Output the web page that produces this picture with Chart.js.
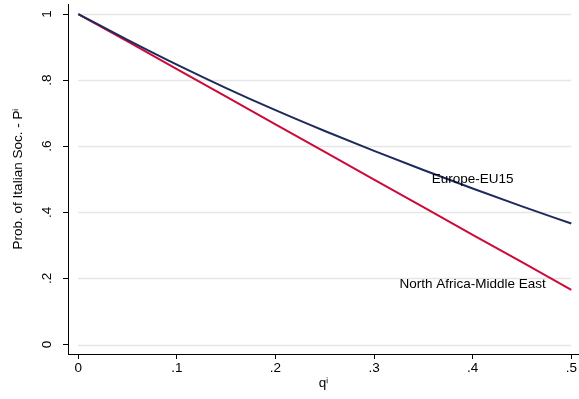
<!DOCTYPE html>
<html>
<head>
<meta charset="utf-8">
<script src="https://cdn.jsdelivr.net/npm/chart.js@4.4.1/dist/chart.umd.min.js"></script>
<style>
  html, body { margin: 0; padding: 0; background: #ffffff; }
  #wrap { width: 579px; height: 399px; }
</style>
</head>
<body>
<div id="wrap"><canvas id="c" width="579" height="399"></canvas></div>
<script>
// Probability of Italian sociability P^i as a function of q^i, by area of origin
const qValues = [0, 0.05, 0.10, 0.15, 0.20, 0.25, 0.30, 0.35, 0.40, 0.45, 0.50];
const europeEU15 = [1.000, 0.922, 0.847, 0.776, 0.709, 0.646, 0.586, 0.528, 0.472, 0.418, 0.366];
const northAfricaME = [1.000, 0.917, 0.833, 0.750, 0.666, 0.583, 0.499, 0.416, 0.332, 0.249, 0.165];

const seriesNames = ['Europe-EU15', 'North Africa-Middle East'];
const seriesColors = ['#1d2b5c', '#cc0a3a'];
// where each series name is written, in data units
const nameAtQ = [0.40, 0.40];
const nameAtP = [0.500, 0.183];

const xTicks = [0, 0.1, 0.2, 0.3, 0.4, 0.5];
const xTickLabels = ['0', '.1', '.2', '.3', '.4', '.5'];
const yTicks = [0, 0.2, 0.4, 0.6, 0.8, 1];
const yTickLabels = ['0', '.2', '.4', '.6', '.8', '1'];

const FONT = '"Liberation Sans", Arial, Helvetica, sans-serif';
const FS = 13.5;

const toPoints = (ys) => qValues.map((q, i) => ({ x: q, y: ys[i] }));

// light horizontal grid lines spanning the data range, y tick labels, series names
const decor = {
  id: 'decor',
  beforeDatasetsDraw(chart) {
    const { ctx, scales: { x, y } } = chart;
    ctx.save();
    ctx.strokeStyle = '#e6e6e6';
    ctx.lineWidth = 1.5;
    const x0 = x.getPixelForValue(xTicks[0]);
    const x1 = x.getPixelForValue(xTicks[xTicks.length - 1]);
    yTicks.forEach(v => {
      const py = Math.round(y.getPixelForValue(v)) + 0.5;
      ctx.beginPath();
      ctx.moveTo(x0, py);
      ctx.lineTo(x1, py);
      ctx.stroke();
    });
    ctx.restore();
  },
  afterDraw(chart) {
    const { ctx, scales: { x, y } } = chart;
    ctx.save();
    ctx.fillStyle = '#000000';
    ctx.font = FS + 'px ' + FONT;
    // rotated y tick labels
    ctx.textAlign = 'center';
    ctx.textBaseline = 'alphabetic';
    yTicks.forEach((v, i) => {
      ctx.save();
      ctx.translate(y.right - 17, y.getPixelForValue(v));
      ctx.rotate(-Math.PI / 2);
      ctx.fillText(yTickLabels[i], 0, 0);
      ctx.restore();
    });
    // series names
    ctx.textBaseline = 'middle';
    seriesNames.forEach((name, i) => {
      ctx.fillText(name, x.getPixelForValue(nameAtQ[i]), y.getPixelForValue(nameAtP[i]));
    });
    ctx.restore();
  }
};

new Chart(document.getElementById('c'), {
  type: 'line',
  data: {
    datasets: [
      {
        label: seriesNames[0],
        data: toPoints(europeEU15),
        borderColor: seriesColors[0],
        borderWidth: 2,
        pointRadius: 0,
        cubicInterpolationMode: 'monotone',
        fill: false
      },
      {
        label: seriesNames[1],
        data: toPoints(northAfricaME),
        borderColor: seriesColors[1],
        borderWidth: 2,
        pointRadius: 0,
        tension: 0,
        fill: false
      }
    ]
  },
  options: {
    responsive: false,
    animation: false,
    devicePixelRatio: 1,
    layout: { padding: { top: 4, right: 0, bottom: 0, left: 0 } },
    plugins: { legend: { display: false }, tooltip: { enabled: false } },
    scales: {
      x: {
        type: 'linear',
        min: -0.0104,
        max: 0.5078,
        afterFit(s) { s.height = 45; },
        afterBuildTicks(s) { s.ticks = xTicks.map(v => ({ value: v })); },
        grid: {
          drawOnChartArea: false,
          drawTicks: true,
          tickLength: 5,
          tickColor: '#000000',
          tickWidth: 1
        },
        border: { display: true, color: '#000000', width: 1 },
        ticks: {
          padding: 1,
          color: '#000000',
          font: { family: FONT, size: FS },
          maxRotation: 0,
          callback: (v) => xTickLabels[xTicks.indexOf(v)] ?? ''
        },
        title: {
          display: true,
          text: 'q\u2071',
          color: '#000000',
          font: { family: FONT, size: FS },
          padding: { top: 0, bottom: 8 }
        }
      },
      y: {
        type: 'linear',
        min: -0.0287,
        max: 1.0303,
        afterFit(s) { s.width = 68; },
        afterBuildTicks(s) { s.ticks = yTicks.map(v => ({ value: v })); },
        grid: {
          drawOnChartArea: false,
          drawTicks: true,
          tickLength: 5,
          tickColor: '#000000',
          tickWidth: 1
        },
        border: { display: true, color: '#000000', width: 1 },
        ticks: { display: false },
        title: {
          display: true,
          text: 'Prob. of Italian Soc. - P\u2071',
          color: '#000000',
          font: { family: FONT, size: FS },
          padding: { top: 10, bottom: 0 }
        }
      }
    }
  },
  plugins: [decor]
});
</script>
</body>
</html>
